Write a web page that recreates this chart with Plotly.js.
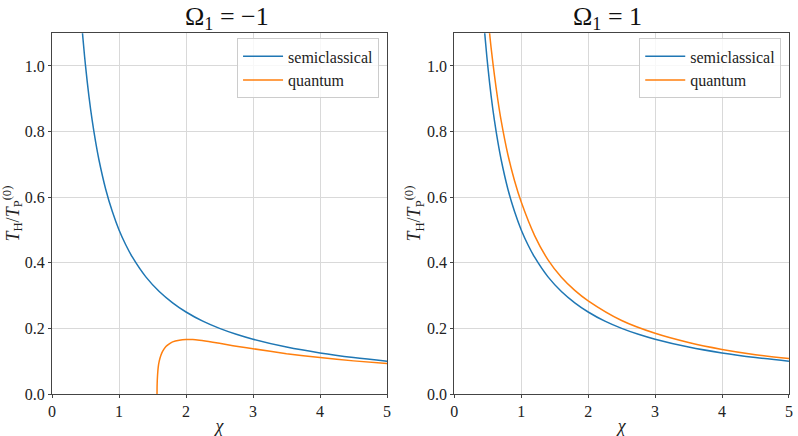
<!DOCTYPE html>
<html>
<head>
<meta charset="utf-8">
<script src="https://cdn.plot.ly/plotly-3.0.1.min.js"></script>
<style>html,body{margin:0;padding:0;background:#fff;}#chart{width:798px;height:436px;}</style>
</head>
<body>
<div id="chart"></div>
<script>
// Semiclassical curve (same in both panels)
const chiSemi = [0.44, 0.46, 0.5, 0.55, 0.6, 0.65, 0.7, 0.8, 0.9, 1.0, 1.1, 1.2, 1.4, 1.6, 1.8, 2.0, 2.25, 2.5, 2.75, 3.0, 3.5, 4.0, 4.5, 5.0];
const semiVals = [1.136, 1.087, 1.0, 0.909, 0.833, 0.769, 0.714, 0.625, 0.556, 0.5, 0.455, 0.417, 0.357, 0.3125, 0.278, 0.25, 0.222, 0.2, 0.182, 0.167, 0.143, 0.125, 0.111, 0.1];

// Quantum curve, Omega_1 = -1
const chiQuantNeg = [1.567, 1.569, 1.575, 1.585, 1.6, 1.625, 1.65, 1.7, 1.75, 1.8, 1.9, 2.0, 2.1, 2.2, 2.4, 2.6, 2.8, 3.0, 3.5, 4.0, 4.5, 5.0];
const quantNegVals = [0.0, 0.03, 0.058, 0.082, 0.1, 0.118, 0.13, 0.145, 0.153, 0.159, 0.164, 0.166, 0.166, 0.164, 0.158, 0.151, 0.144, 0.138, 0.123, 0.111, 0.101, 0.093];

// Quantum curve, Omega_1 = 1
const chiQuantPos = [0.52, 0.55, 0.6, 0.65, 0.7, 0.8, 0.9, 1.0, 1.2, 1.4, 1.6, 1.8, 2.0, 2.5, 3.0, 3.5, 4.0, 4.5, 5.0];
const quantPosVals = [1.115, 1.055, 0.971, 0.897, 0.833, 0.730, 0.650, 0.585, 0.483, 0.409, 0.356, 0.316, 0.284, 0.224, 0.185, 0.157, 0.136, 0.120, 0.108];

const xTicks = [0, 1, 2, 3, 4, 5];
const yTicks = [0.0, 0.2, 0.4, 0.6, 0.8, 1.0];
const seriesNames = ['semiclassical', 'quantum'];
const panelTitles = ['Ω<sub>1</sub> = −1', 'Ω<sub>1</sub> = 1'];

const FONT = '"Liberation Serif", "DejaVu Serif", serif';
const blue = '#1f77b4', orange = '#ff7f0e';

const traces = [
  {x: chiSemi, y: semiVals, name: seriesNames[0], mode: 'lines', line: {color: blue, width: 1.5, shape: 'spline'}, xaxis: 'x', yaxis: 'y', legend: 'legend'},
  {x: chiQuantNeg, y: quantNegVals, name: seriesNames[1], mode: 'lines', line: {color: orange, width: 1.5, shape: 'spline', smoothing: 0.6}, xaxis: 'x', yaxis: 'y', legend: 'legend'},
  {x: chiSemi, y: semiVals, name: seriesNames[0], mode: 'lines', line: {color: blue, width: 1.5, shape: 'spline'}, xaxis: 'x2', yaxis: 'y2', legend: 'legend2'},
  {x: chiQuantPos, y: quantPosVals, name: seriesNames[1], mode: 'lines', line: {color: orange, width: 1.5, shape: 'spline'}, xaxis: 'x2', yaxis: 'y2', legend: 'legend2'}
];

function xax(domain) {
  return {
    domain: domain, range: [0, 5], tickvals: xTicks, ticktext: xTicks.map(String),
    showgrid: true, gridcolor: '#d9d9d9', gridwidth: 1, zeroline: false,
    showline: true, linecolor: '#444', linewidth: 1, mirror: true,
    ticks: 'outside', ticklen: 3, tickcolor: '#444',
    tickfont: {family: FONT, size: 16, color: '#222'},
    title: {text: '<i>χ</i>', font: {family: FONT, size: 18, color: '#222'}, standoff: 0},
    automargin: false, fixedrange: true
  };
}
function yax(anchor) {
  return {
    domain: [0.0963, 0.924], range: [0, 1.1], tickvals: yTicks, ticktext: yTicks.map(v => v.toFixed(1)),
    anchor: anchor,
    showgrid: true, gridcolor: '#d9d9d9', gridwidth: 1, zeroline: false,
    showline: true, linecolor: '#444', linewidth: 1, mirror: true,
    ticks: 'outside', ticklen: 3, tickcolor: '#444',
    tickfont: {family: FONT, size: 16, color: '#222'},
    title: {text: '<i>T</i><sub>H</sub>/<i>T</i><sub>P</sub><sup>(0)</sup>', font: {family: FONT, size: 18, color: '#222'}, standoff: 0},
    automargin: false, fixedrange: true
  };
}
function leg(xr) {
  return {
    x: xr, y: 0.912, xanchor: 'right', yanchor: 'top', itemwidth: 40,
    bgcolor: 'rgba(255,255,255,0.8)', bordercolor: '#cccccc', borderwidth: 1,
    font: {family: FONT, size: 16, color: '#222'}, tracegroupgap: 0
  };
}

const layout = {
  width: 798, height: 436,
  margin: {l: 0, r: 0, t: 0, b: 0},
  font: {family: FONT, size: 16, color: '#222'},
  paper_bgcolor: '#fff', plot_bgcolor: '#fff',
  showlegend: true,
  xaxis: Object.assign(xax([0.0652, 0.4850]), {anchor: 'y'}),
  yaxis: yax('x'),
  xaxis2: Object.assign(xax([0.5693, 0.9887]), {anchor: 'y2'}),
  yaxis2: yax('x2'),
  legend: leg(0.475),
  legend2: leg(0.979),
  annotations: [
    {text: panelTitles[0], xref: 'paper', yref: 'paper', x: 0.2845, y: 0.958, xanchor: 'center', yanchor: 'middle', showarrow: false, font: {family: FONT, size: 26, color: '#111'}},
    {text: panelTitles[1], xref: 'paper', yref: 'paper', x: 0.7607, y: 0.958, xanchor: 'center', yanchor: 'middle', showarrow: false, font: {family: FONT, size: 26, color: '#111'}}
  ]
};

Plotly.newPlot('chart', traces, layout, {staticPlot: true, displayModeBar: false});
</script>
</body>
</html>
